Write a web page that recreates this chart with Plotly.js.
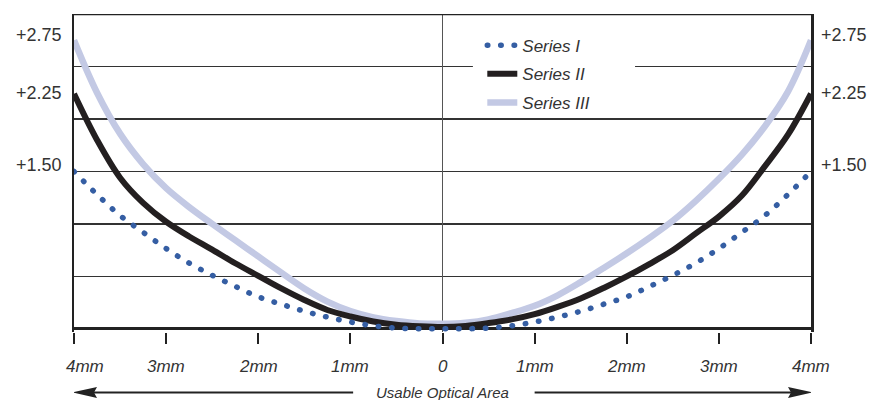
<!DOCTYPE html>
<html><head><meta charset="utf-8">
<script src="https://cdn.plot.ly/plotly-3.0.1.min.js"></script>
<style>
html,body{margin:0;padding:0;background:#fff;}
#chart{width:871px;height:400px;}
</style></head><body><div id="chart"></div>
<script>
const xPositions = [-4,-3.75,-3.5,-3.25,-3,-2.75,-2.5,-2.25,-2,-1.75,-1.5,-1.25,-1,-0.75,-0.5,-0.25,0,
                    0.25,0.5,0.75,1,1.25,1.5,1.75,2,2.25,2.5,2.75,3,3.25,3.5,3.75,4];
const series1 = [1.50,1.28,1.08,0.92,0.765,0.627,0.51,0.405,0.305,0.235,0.168,0.112,0.065,0.029,0.008,0.001,0.0,
                 0.001,0.008,0.029,0.065,0.112,0.168,0.235,0.305,0.405,0.51,0.627,0.765,0.92,1.08,1.28,1.50];
const series2 = [2.24,1.80,1.44,1.20,1.02,0.88,0.755,0.625,0.505,0.385,0.275,0.18,0.118,0.07,0.04,0.025,0.018,
                 0.028,0.055,0.09,0.14,0.21,0.29,0.39,0.50,0.62,0.75,0.91,1.07,1.27,1.55,1.85,2.24];
const series3 = [2.75,2.25,1.86,1.57,1.34,1.16,1.00,0.845,0.69,0.535,0.385,0.26,0.17,0.11,0.075,0.052,0.048,
                 0.058,0.09,0.15,0.22,0.32,0.445,0.58,0.72,0.87,1.03,1.22,1.43,1.66,1.93,2.26,2.75];
const seriesNames = ['Series I','Series II','Series III'];
const xTickVals = [-4,-3,-2,-1,0,1,2,3,4];
const xTickText = ['4mm','3mm','2mm','1mm','0','1mm','2mm','3mm','4mm'];
const xLabelShift = [11,0,0,0,0,0,0,0,0];
const yLabelVals = [2.75,2.25,1.50];
const yLabelText = ['+2.75','+2.25','+1.50'];
const yLabelShift = [5,0,6];
const axisTitle = 'Usable Optical Area';

const FONT = '"Liberation Sans", Arial, sans-serif';
const INK = '#222';

const traces = [
  {x:xPositions, y:series3, name:seriesNames[2], legendgroup:'c', legendrank:3, mode:'lines',
   line:{color:'#c3c9e4', width:6.5, shape:'spline', smoothing:1}},
  {x:xPositions, y:series2, name:seriesNames[1], legendgroup:'b', legendrank:2, mode:'lines',
   line:{color:'#231f20', width:6, shape:'spline', smoothing:1}},
  {x:xPositions, y:series1, name:seriesNames[0], legendgroup:'a', legendrank:1, mode:'lines',
   line:{color:'#355ea3', width:5.5, dash:'0.5px,12.9px', shape:'spline', smoothing:1}}
];

const annotations = [];
xTickVals.forEach((v,i)=>{
  annotations.push({x:v, xref:'x', y:-0.109, yref:'paper', text:xTickText[i], showarrow:false,
    xanchor:'center', yanchor:'middle', xshift:xLabelShift[i],
    font:{family:FONT, size:17, color:'#333', style:'italic'}});
});
yLabelVals.forEach((v,i)=>{
  annotations.push({x:0, xref:'paper', y:v, yref:'y', text:yLabelText[i], showarrow:false,
    xanchor:'right', yanchor:'middle', xshift:-10, yshift:yLabelShift[i],
    font:{family:FONT, size:18, color:'#333'}});
  annotations.push({x:1, xref:'paper', y:v, yref:'y', text:yLabelText[i], showarrow:false,
    xanchor:'left', yanchor:'middle', xshift:8, yshift:yLabelShift[i],
    font:{family:FONT, size:18, color:'#333'}});
});
annotations.push({x:0, xref:'x', y:-0.19, yref:'paper', text:axisTitle, showarrow:false,
  xanchor:'center', yanchor:'middle', font:{family:FONT, size:15, color:'#333', style:'italic'}});

const arrowY = -0.19;
const shapes = [
  // white panel behind the legend, hiding the 2.5 grid line there
  {type:'rect', layer:'between', xref:'x', yref:'y', x0:0.33, x1:2.09, y0:2.4, y1:2.6,
   fillcolor:'#fff', line:{width:0}},
  {type:'line', xref:'paper', yref:'y', x0:0, x1:1, y0:3, y1:3, line:{color:INK, width:2.5}},
  {type:'line', xref:'x', yref:'paper', x0:-3.85, x1:-0.97, y0:arrowY, y1:arrowY, line:{color:INK, width:2}},
  {type:'line', xref:'x', yref:'paper', x0:1.0, x1:3.85, y0:arrowY, y1:arrowY, line:{color:INK, width:2}},
  {type:'path', xref:'x', yref:'paper', xsizemode:'pixel', ysizemode:'pixel', xanchor:-4, yanchor:arrowY,
   path:'M -2,0 L 23,5.5 L 20,0 L 23,-5.5 Z', fillcolor:INK, line:{width:0}},
  {type:'path', xref:'x', yref:'paper', xsizemode:'pixel', ysizemode:'pixel', xanchor:4, yanchor:arrowY,
   path:'M 2,0 L -23,5.5 L -20,0 L -23,-5.5 Z', fillcolor:INK, line:{width:0}}
];

const layout = {
  width:871, height:400,
  margin:{l:74, r:60, t:14, b:68},
  paper_bgcolor:'#fff', plot_bgcolor:'#fff',
  showlegend:true,
  legend:{x:0.554, xanchor:'left', y:0.957, yanchor:'top', bgcolor:'rgba(0,0,0,0)', borderwidth:0,
    font:{family:FONT, size:17, color:'#333', style:'italic'},
    traceorder:'grouped', tracegroupgap:3.5},
  xaxis:{range:[-4,4], tickvals:xTickVals, showticklabels:false, ticks:'outside', ticklen:11, tickwidth:2,
    tickcolor:INK, showgrid:false, zeroline:true, zerolinecolor:'#555', zerolinewidth:1.5, showline:false,
    fixedrange:true},
  yaxis:{range:[-0.03,3], tick0:0, dtick:0.5, showgrid:true, gridcolor:'#333', gridwidth:1.2,
    showticklabels:false, ticks:'', zeroline:true, zerolinecolor:INK, zerolinewidth:3,
    showline:true, mirror:true, linecolor:INK, linewidth:2.5, fixedrange:true},
  shapes:shapes,
  annotations:annotations
};

Plotly.newPlot('chart', traces, layout, {displayModeBar:false, staticPlot:true}).then(()=>{
  document.querySelectorAll('path.js-line').forEach(p=>{
    const d = p.style.strokeDasharray;
    if (d && d !== 'none') p.style.strokeLinecap = 'round';
  });
});
</script></body></html>
